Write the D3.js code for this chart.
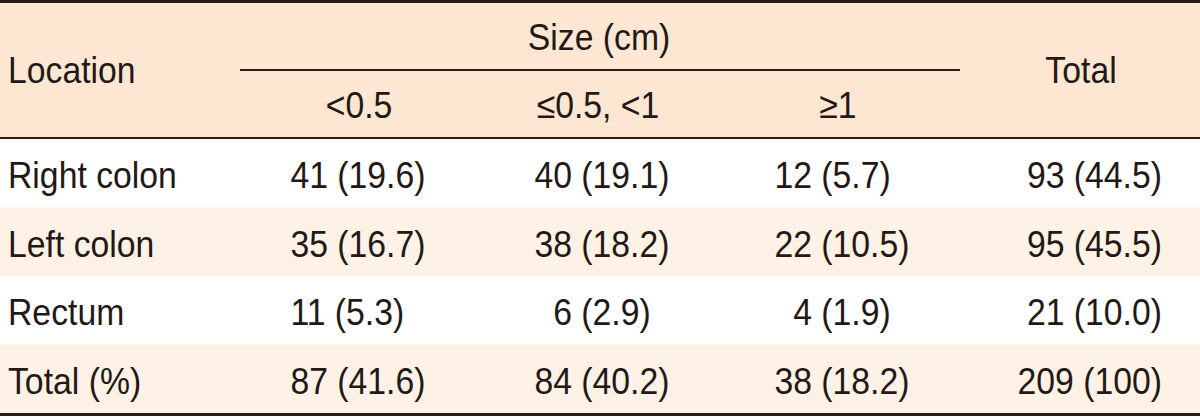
<!DOCTYPE html>
<html>
<head>
<meta charset="utf-8">
<script src="https://cdn.jsdelivr.net/npm/d3@7"></script>
<style>
  html, body { margin: 0; padding: 0; background: #fff; }
  text { font-family: "Liberation Sans", Arial, sans-serif; fill: #231815; }
</style>
</head>
<body>
<div id="chart"></div>
<script>
// table content
let locations = ["Right colon", "Left colon", "Rectum", "Total (%)"];
let sizeGroups = ["<0.5", "≤0.5, <1", "≥1"];
let columns = ["<0.5", "≤0.5, <1", "≥1", "Total"];
let counts = [
  [41, 40, 12, 93],
  [35, 38, 22, 95],
  [11, 6, 4, 21],
  [87, 84, 38, 209]
];
let percents = [
  ["19.6", "19.1", "5.7", "44.5"],
  ["16.7", "18.2", "10.5", "45.5"],
  ["5.3", "2.9", "1.9", "10.0"],
  ["41.6", "40.2", "18.2", "100"]
];

let width = 1200;
let height = 417;
let fontSize = 36.5;
let squeeze = 0.925; // reference face is a condensed one
let headerBottom = 139;
let headerFill = "#fde7d2";
let stripeFill = "#fef1e5";
let lineColor = "#2a1c16";

let svg = d3
  .select("#chart")
  .append("svg")
  .attr("width", width)
  .attr("height", height);

// place a text at (x, y) with the horizontal squeeze
function place(sel, x, y) {
  return sel.attr("transform", `translate(${x},${y}) scale(${squeeze},1)`);
}

/* Scales */
let yRow = d3
  .scaleBand()
  .domain(locations)
  .range([headerBottom, 413]);

// right edge of the count number in each column (total column is right-aligned)
let xCol = d3
  .scaleOrdinal()
  .domain(columns)
  .range([328, 572, 812, 1162]);

let xHead = d3
  .scaleOrdinal()
  .domain(sizeGroups)
  .range([359, 598, 838]);

/* Backgrounds */
svg
  .append("rect")
  .attr("x", 0)
  .attr("y", 0)
  .attr("width", width)
  .attr("height", headerBottom)
  .attr("fill", headerFill);

svg
  .selectAll(".stripe")
  .data(locations.filter((d, i) => i % 2 === 1))
  .enter()
  .append("rect")
  .attr("class", "stripe")
  .attr("x", 0)
  .attr("y", d => yRow(d))
  .attr("width", width)
  .attr("height", yRow.bandwidth())
  .attr("fill", stripeFill);

/* Rules */
let rules = [
  { x1: 0, x2: width, y: 1.5, w: 3 },
  { x1: 0, x2: width, y: headerBottom - 1, w: 2 },
  { x1: 240, x2: 960, y: 70, w: 2 },
  { x1: 0, x2: width, y: 414.5, w: 3 }
];
svg
  .selectAll(".rule")
  .data(rules)
  .enter()
  .append("line")
  .attr("class", "rule")
  .attr("x1", d => d.x1)
  .attr("x2", d => d.x2)
  .attr("y1", d => d.y)
  .attr("y2", d => d.y)
  .attr("stroke", lineColor)
  .attr("stroke-width", d => d.w);

/* Header */
let head = svg.append("g").style("font-size", fontSize + "px");

place(head.append("text"), 8, 83).text("Location");
place(head.append("text"), 599, 50)
  .attr("text-anchor", "middle")
  .text("Size (cm)");
place(head.append("text"), 1081, 83)
  .attr("text-anchor", "middle")
  .text("Total");

head
  .selectAll(".sub")
  .data(sizeGroups)
  .enter()
  .append("text")
  .attr("class", "sub")
  .attr("transform", d => `translate(${xHead(d)},118) scale(${squeeze},1)`)
  .attr("text-anchor", "middle")
  .text(d => d);

/* Body */
let rows = svg
  .selectAll(".row")
  .data(locations)
  .enter()
  .append("g")
  .attr("class", "row")
  .style("font-size", fontSize + "px")
  .attr("transform", d => `translate(0, ${yRow(d) + 49})`);

rows
  .append("text")
  .attr("transform", `translate(8,0) scale(${squeeze},1)`)
  .text(d => d);

// measure a digit to align counts on their last digit
let probe = svg.append("text").style("font-size", fontSize + "px").text("00");
let digitW = (probe.node().getComputedTextLength() / 2) * squeeze;
probe.remove();

rows.each(function(loc, r) {
  let g = d3.select(this);
  columns.forEach(function(col, c) {
    let label = `${counts[r][c]} (${percents[r][c]})`;
    if (col === "Total") {
      place(g.append("text"), xCol(col), 0)
        .attr("text-anchor", "end")
        .text(label);
    } else {
      let nDigits = String(counts[r][c]).length;
      place(g.append("text"), xCol(col) - nDigits * digitW, 0).text(label);
    }
  });
});
</script>
</body>
</html>
